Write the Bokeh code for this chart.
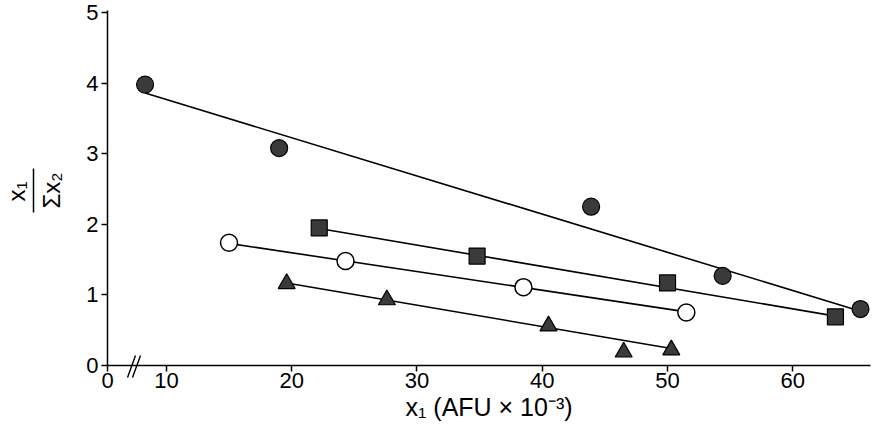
import math
from bokeh.plotting import figure
from bokeh.models import Range1d, FixedTicker, Label, Arrow, CustomJSTickFormatter
from bokeh.embed import file_html
from bokeh.resources import INLINE

# x1 (AFU x 10^-3) against x1 / Σx2 for the four series
circle_x = [8.3, 19.0, 43.9, 54.4, 65.4]
circle_y = [3.98, 3.08, 2.25, 1.27, 0.80]

square_x = [22.2, 34.8, 50.0, 63.4]
square_y = [1.95, 1.55, 1.17, 0.69]

open_x = [15.0, 24.3, 38.5, 51.5]
open_y = [1.74, 1.48, 1.11, 0.75]

tri_x = [19.6, 27.6, 40.5, 46.5, 50.3]
tri_y = [1.16, 0.93, 0.56, 0.19, 0.22]

# straight-line fits for each series: x at both ends, fitted y at both ends
fit_circle = ([8.3, 65.4], [3.86, 0.77])
fit_square = ([22.2, 63.4], [1.94, 0.70])
fit_open = ([15.0, 51.5], [1.73, 0.76])
fit_tri = ([19.6, 50.3], [1.17, 0.24])

x_ticks = [10, 20, 30, 40, 50, 60]
y_ticks = [0, 1, 2, 3, 4, 5]

FONT = "Liberation Sans"

# canvas geometry; the axes are pinned inside a frame that fills the canvas
W, H = 873, 437
AX_LEFT_PX, AX_RIGHT_PX = 107, 870      # x axis line extent
AX_BOTTOM_PX, AX_TOP_PX = 365, 10       # y axis line extent

# broken x axis: the left end of the axis stands for 0
X_BREAK, X_AXIS_END = 5.3, 66.2
Y_AXIS_END = 5.03

sx = (AX_RIGHT_PX - AX_LEFT_PX) / (X_AXIS_END - X_BREAK)
sy = (AX_BOTTOM_PX - AX_TOP_PX) / Y_AXIS_END
x_start = X_BREAK - AX_LEFT_PX / sx
x_end = X_BREAK + (W - AX_LEFT_PX) / sx
y_start = -(H - AX_BOTTOM_PX) / sy
y_end = AX_BOTTOM_PX / sy

def dx(px):
    return X_BREAK + (px - AX_LEFT_PX) / sx

def dy(py):
    return (AX_BOTTOM_PX - py) / sy

p = figure(
    width=W, height=H,
    output_backend="svg", toolbar_location=None,
    x_range=Range1d(x_start, x_end), y_range=Range1d(y_start, y_end),
    min_border=0,
)
p.outline_line_color = None
p.grid.visible = False
p.background_fill_color = "white"
p.border_fill_color = "white"

for ax in (p.xaxis[0], p.yaxis[0]):
    ax.axis_line_color = "black"
    ax.axis_line_width = 1.5
    ax.major_tick_line_color = "black"
    ax.major_tick_line_width = 1.5
    ax.major_tick_in = 0
    ax.major_tick_out = 6
    ax.minor_tick_line_color = None
    ax.major_label_text_font = FONT
    ax.major_label_text_font_size = "22px"
    ax.major_label_text_color = "black"

xa = p.xaxis[0]
xa.fixed_location = 0
xa.bounds = (X_BREAK, X_AXIS_END)
xa.ticker = FixedTicker(ticks=[X_BREAK] + x_ticks)
xa.formatter = CustomJSTickFormatter(code="return tick < 9 ? '0' : tick.toFixed(0);")
xa.major_label_standoff = 1
xa.axis_label = "x\u2081 (AFU \u00d7 10\u207b\u00b3)"
xa.axis_label_text_font = FONT
xa.axis_label_text_font_size = "25px"
xa.axis_label_text_font_style = "normal"
xa.axis_label_text_color = "black"
xa.axis_label_standoff = 2

ya = p.yaxis[0]
ya.fixed_location = X_BREAK
ya.bounds = (0, Y_AXIS_END)
ya.ticker = FixedTicker(ticks=y_ticks)
ya.major_label_standoff = 3

# regression lines
for xs, ys in (fit_circle, fit_square, fit_open, fit_tri):
    p.line(xs, ys, line_color="black", line_width=1.6)

# data markers
fill = "#3a3a3a"
p.scatter(circle_x, circle_y, marker="circle", size=17,
          fill_color=fill, line_color="black", line_width=1.2)
p.scatter(square_x, square_y, marker="square", size=16,
          fill_color=fill, line_color="black", line_width=1.2)
p.scatter(open_x, open_y, marker="circle", size=17,
          fill_color="white", line_color="black", line_width=1.5)
p.scatter(tri_x, tri_y, marker="triangle", size=17,
          fill_color=fill, line_color="black", line_width=1.2)

# "//" break marks on the x axis
for off in (0, 5):
    p.add_layout(Arrow(end=None, start=None,
                       x_start=dx(127 + off), y_start=dy(377),
                       x_end=dx(135 + off), y_end=dy(355),
                       line_color="black", line_width=1.4))

# y-axis title drawn as a stacked fraction x1 / Σx2
p.add_layout(Label(x=dx(16), y=dy(191), text="x\u2081", angle=math.pi / 2,
                   text_align="center", text_baseline="middle",
                   text_font=FONT, text_font_size="24px", text_color="black"))
p.add_layout(Label(x=dx(51), y=dy(190), text="\u03a3x\u2082", angle=math.pi / 2,
                   text_align="center", text_baseline="middle",
                   text_font=FONT, text_font_size="24px", text_color="black"))
p.add_layout(Arrow(end=None, start=None,
                   x_start=dx(33), y_start=dy(212), x_end=dx(33), y_end=dy(168),
                   line_color="black", line_width=1.5))

open("out.html", "w").write(file_html(p, INLINE))
